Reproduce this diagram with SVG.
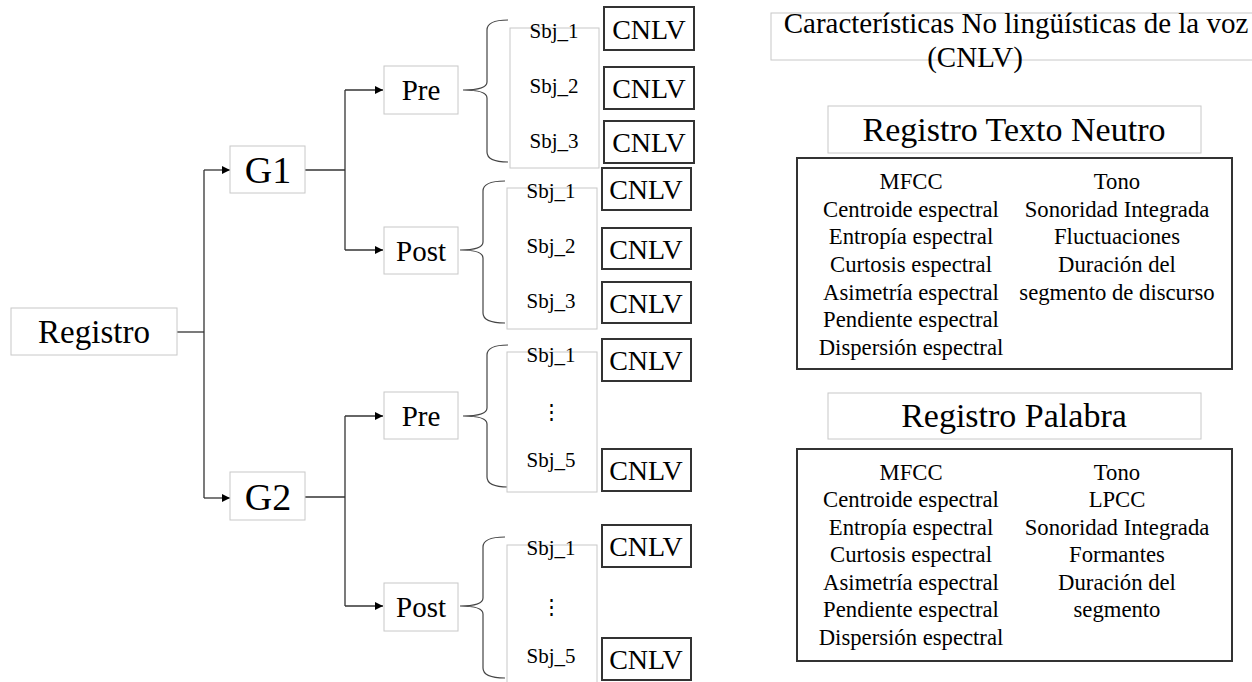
<svg xmlns="http://www.w3.org/2000/svg" width="1252" height="682" viewBox="0 0 1252 682" font-family="'Liberation Serif', serif">
<style>
text{fill:#000;text-anchor:middle}
.lbox{fill:#fff;stroke:#c8c8c8;stroke-width:1}
.dbox{fill:#fff;stroke:#333;stroke-width:2}
.ln{fill:none;stroke:#333;stroke-width:1.3}
.br{fill:none;stroke:#444;stroke-width:1.2}
.sbj{font-size:21px}
.cn{font-size:28px}
.ft{font-size:22.7px}
</style>
<defs>
<marker id="ah" viewBox="0 0 10 10" refX="10" refY="5" markerWidth="8" markerHeight="8" markerUnits="userSpaceOnUse" orient="auto">
<path d="M0,0 L10,5 L0,10 Z" fill="#000"/>
</marker>
</defs>
<rect width="1252" height="682" fill="#fff"/>

<g id="connectors">
<path class="ln" d="M177,332 H204"/>
<path class="ln" d="M204,170 V498" />
<path class="ln" d="M204,170 H230" marker-end="url(#ah)"/>
<path class="ln" d="M204,498 H230" marker-end="url(#ah)"/>
<path class="ln" d="M305,170 H345"/>
<path class="ln" d="M345,90 V250"/>
<path class="ln" d="M345,90 H383" marker-end="url(#ah)"/>
<path class="ln" d="M345,250 H383" marker-end="url(#ah)"/>
<path class="ln" d="M305,497 H345"/>
<path class="ln" d="M345,416 V606"/>
<path class="ln" d="M345,416 H383" marker-end="url(#ah)"/>
<path class="ln" d="M345,606 H383" marker-end="url(#ah)"/>
<path class="br" d="M508,20 Q487,20 487,30 L487,82 Q487,90 463,90 Q487,90 487,98 L487,152 Q487,162 508,162"/>
<path class="br" d="M505,181 Q483,181 483,191 L483,242 Q483,250 460,250 Q483,250 483,258 L483,313 Q483,323 505,323"/>
<path class="br" d="M508,345 Q487,345 487,355 L487,408 Q487,416 463,416 Q487,416 487,424 L487,477 Q487,487 508,487"/>
<path class="br" d="M505,537 Q483,537 483,547 L483,598 Q483,606 460,606 Q483,606 483,614 L483,668 Q483,678 505,678"/>
</g>

<g id="registro"><rect class="lbox" x="11" y="308" width="166" height="47"/><text x="94" y="343" font-size="33">Registro</text></g>
<g id="g1"><rect class="lbox" x="230" y="146" width="75" height="47"/><text x="268" y="183" font-size="38">G1</text></g>
<g id="g2"><rect class="lbox" x="230" y="472" width="75" height="48"/><text x="268" y="510" font-size="38">G2</text></g>
<g id="g1-pre"><rect class="lbox" x="384" y="66" width="74" height="48"/><text x="421" y="100" font-size="29">Pre</text></g>
<g id="g1-post"><rect class="lbox" x="384" y="227" width="74" height="47"/><text x="421" y="261" font-size="29">Post</text></g>
<g id="g2-pre"><rect class="lbox" x="384" y="392" width="74" height="47"/><text x="421" y="426" font-size="29">Pre</text></g>
<g id="g2-post"><rect class="lbox" x="384" y="583" width="74" height="48"/><text x="421" y="617" font-size="29">Post</text></g>

<g id="g1-pre-sbj"><rect class="lbox" x="510" y="28" width="89" height="140" fill="none"/>
<text class="sbj" x="554" y="38">Sbj_1</text><text class="sbj" x="554" y="93">Sbj_2</text><text class="sbj" x="554" y="148">Sbj_3</text></g>
<g id="g1-post-sbj"><rect class="lbox" x="507" y="188" width="90" height="141" fill="none"/>
<text class="sbj" x="551" y="198">Sbj_1</text><text class="sbj" x="551" y="253">Sbj_2</text><text class="sbj" x="551" y="308">Sbj_3</text></g>
<g id="g2-pre-sbj"><rect class="lbox" x="507" y="352" width="90" height="140" fill="none"/>
<text class="sbj" x="551" y="362">Sbj_1</text><text class="sbj" x="551" y="419">⋮</text><text class="sbj" x="551" y="467">Sbj_5</text></g>
<g id="g2-post-sbj"><rect class="lbox" x="507" y="545" width="90" height="145" fill="none"/>
<text class="sbj" x="551" y="555">Sbj_1</text><text class="sbj" x="551" y="614">⋮</text><text class="sbj" x="551" y="663">Sbj_5</text></g>

<g id="cnlv-1"><rect class="dbox" x="604" y="7" width="90" height="43"/><text class="cn" x="649" y="39">CNLV</text></g>
<g id="cnlv-2"><rect class="dbox" x="604" y="67" width="90" height="42"/><text class="cn" x="649" y="98">CNLV</text></g>
<g id="cnlv-3"><rect class="dbox" x="604" y="121" width="90" height="42"/><text class="cn" x="649" y="152">CNLV</text></g>
<g id="cnlv-4"><rect class="dbox" x="602" y="168" width="89" height="42"/><text class="cn" x="646" y="199">CNLV</text></g>
<g id="cnlv-5"><rect class="dbox" x="602" y="228" width="89" height="41"/><text class="cn" x="646" y="259">CNLV</text></g>
<g id="cnlv-6"><rect class="dbox" x="602" y="282" width="89" height="41"/><text class="cn" x="646" y="313">CNLV</text></g>
<g id="cnlv-7"><rect class="dbox" x="602" y="339" width="89" height="42"/><text class="cn" x="646" y="370">CNLV</text></g>
<g id="cnlv-8"><rect class="dbox" x="602" y="449" width="89" height="42"/><text class="cn" x="646" y="480">CNLV</text></g>
<g id="cnlv-9"><rect class="dbox" x="602" y="525" width="89" height="42"/><text class="cn" x="646" y="556">CNLV</text></g>
<g id="cnlv-10"><rect class="dbox" x="602" y="638" width="89" height="42"/><text class="cn" x="646" y="669">CNLV</text></g>

<g id="title"><rect class="lbox" x="771" y="13" width="490" height="47" fill="none"/>
<text x="1016" y="33" font-size="29">Características No lingüísticas de la voz</text>
<text x="975" y="67" font-size="29">(CNLV)</text></g>

<g id="neutro-title"><rect class="lbox" x="828" y="106" width="373" height="47"/><text x="1014" y="141" font-size="34">Registro Texto Neutro</text></g>
<g id="neutro-list"><rect class="dbox" x="797" y="158" width="435" height="211"/>
<text class="ft" x="911" y="189">MFCC</text>
<text class="ft" x="911" y="217">Centroide espectral</text>
<text class="ft" x="911" y="244">Entropía espectral</text>
<text class="ft" x="911" y="272">Curtosis espectral</text>
<text class="ft" x="911" y="300">Asimetría espectral</text>
<text class="ft" x="911" y="327">Pendiente espectral</text>
<text class="ft" x="911" y="355">Dispersión espectral</text>
<text class="ft" x="1117" y="189">Tono</text>
<text class="ft" x="1117" y="217">Sonoridad Integrada</text>
<text class="ft" x="1117" y="244">Fluctuaciones</text>
<text class="ft" x="1117" y="272">Duración del</text>
<text class="ft" x="1117" y="300">segmento de discurso</text>
</g>

<g id="palabra-title"><rect class="lbox" x="828" y="393" width="373" height="46"/><text x="1014" y="427" font-size="34">Registro Palabra</text></g>
<g id="palabra-list"><rect class="dbox" x="797" y="449" width="435" height="212"/>
<text class="ft" x="911" y="480">MFCC</text>
<text class="ft" x="911" y="507">Centroide espectral</text>
<text class="ft" x="911" y="535">Entropía espectral</text>
<text class="ft" x="911" y="562">Curtosis espectral</text>
<text class="ft" x="911" y="590">Asimetría espectral</text>
<text class="ft" x="911" y="617">Pendiente espectral</text>
<text class="ft" x="911" y="645">Dispersión espectral</text>
<text class="ft" x="1117" y="480">Tono</text>
<text class="ft" x="1117" y="507">LPCC</text>
<text class="ft" x="1117" y="535">Sonoridad Integrada</text>
<text class="ft" x="1117" y="562">Formantes</text>
<text class="ft" x="1117" y="590">Duración del</text>
<text class="ft" x="1117" y="617">segmento</text>
</g>
</svg>
